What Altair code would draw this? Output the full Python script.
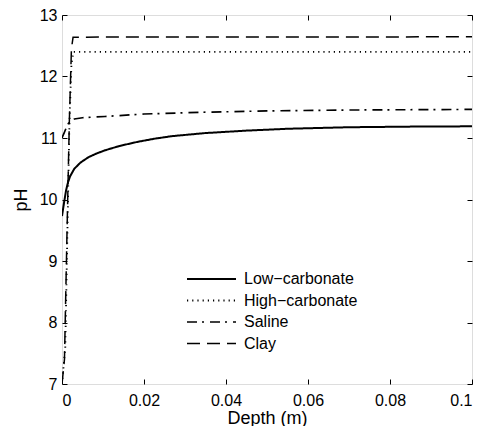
import altair as alt
import pandas as pd

# ---- data ----
soil_names = ["Low−carbonate", "High−carbonate", "Saline", "Clay"]

low_x = [0, 0.0005, 0.001, 0.0015, 0.002, 0.003, 0.0045, 0.0065, 0.0085, 0.0105,
         0.014, 0.0186, 0.0227, 0.0268, 0.0349, 0.045, 0.055, 0.07, 0.085, 0.1]
low_y = [9.73, 9.95, 10.15, 10.29, 10.38, 10.5, 10.6, 10.69, 10.75, 10.8,
         10.87, 10.94, 10.99, 11.03, 11.08, 11.12, 11.15, 11.175, 11.185, 11.19]

high_x = [0, 0.0008, 0.0013, 0.0018, 0.0023, 0.0028, 0.1]
high_y = [7.0, 7.6, 9.4, 11.2, 12.2, 12.4, 12.4]

saline_x = [0, 0.0005, 0.001, 0.0015, 0.002, 0.003, 0.005, 0.0105, 0.02, 0.035,
            0.05, 0.07, 0.1]
saline_y = [11.0, 11.08, 11.16, 11.23, 11.28, 11.31, 11.33, 11.35, 11.39, 11.42,
            11.44, 11.455, 11.465]

clay_x = [0, 0.0006, 0.0012, 0.0018, 0.0023, 0.0027, 0.1]
clay_y = [7.0, 7.4, 9.4, 11.3, 12.45, 12.64, 12.645]

x_ticks = [0, 0.02, 0.04, 0.06, 0.08, 0.1]
y_ticks = [7, 8, 9, 10, 11, 12, 13]

# ---- build table ----
rows = []
for name, xs, ys in zip(soil_names, [low_x, high_x, saline_x, clay_x],
                        [low_y, high_y, saline_y, clay_y]):
    for i, (a, b) in enumerate(zip(xs, ys)):
        rows.append({"soil": name, "depth": a, "ph": b, "idx": i})
df = pd.DataFrame(rows)

FONT = "Liberation Sans"
dashes = [[1, 0], [1.2, 4], [10, 5, 2, 6], [13, 7]]
widths = [2, 1.5, 2, 2]

xscale = alt.Scale(domain=[0, 0.1], nice=False, zero=False)
yscale = alt.Scale(domain=[7, 13], nice=False, zero=False)

lines = alt.Chart(df).mark_line(color="black", strokeCap="butt", clip=True).encode(
    x=alt.X("depth:Q", scale=xscale,
            axis=alt.Axis(title="Depth (m)", values=x_ticks, format="~g",
                          offset=-5, tickSize=5, tickColor="black", tickWidth=1,
                          domain=False, grid=False, labelPadding=8,
                          labelFont=FONT, labelFontSize=16, labelColor="black",
                          titleFont=FONT, titleFontSize=18, titleFontWeight="normal",
                          titleColor="black", titlePadding=1)),
    y=alt.Y("ph:Q", scale=yscale,
            axis=alt.Axis(title="pH", values=y_ticks, format="d",
                          offset=-5, tickSize=5, tickColor="black", tickWidth=1,
                          domain=False, grid=False, labelPadding=5,
                          labelFont=FONT, labelFontSize=16, labelColor="black",
                          titleFont=FONT, titleFontSize=18, titleFontWeight="normal",
                          titleColor="black", titlePadding=9)),
    strokeDash=alt.StrokeDash(
        "soil:N", scale=alt.Scale(domain=soil_names, range=dashes),
        legend=alt.Legend(title=None, orient="none", legendX=124, legendY=254,
                          symbolType="stroke", symbolSize=2401,
                          symbolStrokeColor="black", symbolStrokeWidth=2,
                          clipHeight=20, rowPadding=1.5, labelOffset=7,
                          labelFont=FONT, labelFontSize=16, labelColor="black",
                          padding=0)),
    strokeWidth=alt.StrokeWidth("soil:N", scale=alt.Scale(domain=soil_names, range=widths),
                                legend=None),
    order="idx:Q",
)

frame = alt.Chart(df).mark_point(opacity=0).encode(
    x=alt.X("depth:Q", scale=xscale,
            axis=alt.Axis(orient="top", title=None, labels=False, values=x_ticks,
                          offset=-5, tickSize=5, tickColor="black", tickWidth=1,
                          domain=False, grid=False)),
    y=alt.Y("ph:Q", scale=yscale,
            axis=alt.Axis(orient="right", title=None, labels=False, values=y_ticks,
                          offset=-5, tickSize=5, tickColor="black", tickWidth=1,
                          domain=False, grid=False)),
)

chart = alt.layer(frame, lines).resolve_axis(x="independent", y="independent").properties(
    width=410, height=369,
    autosize=alt.AutoSizeParams(type="none"),
    padding={"left": 54, "top": 7, "right": 2, "bottom": 42},
).configure_view(stroke="black", strokeWidth=1.5).configure(background="white")

chart.save("out.html", embed_options={"renderer": "svg", "actions": False})
